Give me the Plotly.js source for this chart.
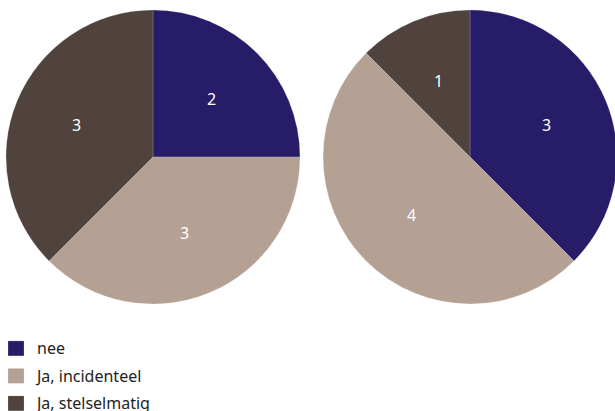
<!DOCTYPE html>
<html><head><meta charset="utf-8">
<script src="https://cdn.plot.ly/plotly-3.0.1.min.js"></script>
<style>body{margin:0;padding:0;overflow:hidden}#c{width:620px;height:411px}</style>
</head><body><div id="c"></div>
<script>
var categories = ["nee", "Ja, incidenteel", "Ja, stelselmatig"];
var valuesLeft = [2, 3, 3];
var valuesRight = [3, 4, 1];
var colors = ["#271c67", "#b5a194", "#50433d"];

var H = 411, W = 620;
var R = 147, CY = 157;
var centersX = [153, 470];
var labelRadius = 0.56;

function pie(vals, cx, show) {
  return {
    type: "pie", values: vals, labels: categories, sort: false, direction: "clockwise", rotation: 0,
    textinfo: "none",
    marker: {colors: colors, line: {color: "rgba(255,255,255,0.35)", width: 0.5}},
    domain: {x: [(cx - R) / W, (cx + R) / W], y: [1 - (CY + R) / H, 1 - (CY - R) / H]},
    showlegend: show, hoverinfo: "label+value"
  };
}
function labels(vals, cx) {
  var tot = vals.reduce(function (a, b) { return a + b; }, 0), cum = 0, out = [];
  vals.forEach(function (v) {
    var mid = (cum + v / 2) / tot * 2 * Math.PI; cum += v;
    var px = cx + labelRadius * R * Math.sin(mid), py = CY - labelRadius * R * Math.cos(mid);
    out.push({xref: "paper", yref: "paper", x: px / W, y: 1 - py / H, xanchor: "center", yanchor: "middle",
      text: String(v), showarrow: false, font: {color: "#ffffff", size: 16, family: "Noto Sans, sans-serif"}});
  });
  return out;
}
var data = [pie(valuesLeft, centersX[0], true), pie(valuesRight, centersX[1], false)];
var layout = {
  width: W, height: H, margin: {l: 0, r: 0, t: 0, b: 0},
  paper_bgcolor: "#ffffff",
  font: {family: "Noto Sans, sans-serif", color: "#222222", size: 16},
  annotations: labels(valuesLeft, centersX[0]).concat(labels(valuesRight, centersX[1])),
  legend: {x: 0, xanchor: "left", y: 0, yanchor: "bottom", traceorder: "normal",
           font: {size: 16, color: "#222222"}, bgcolor: "rgba(0,0,0,0)", tracegroupgap: 0}
};
Plotly.newPlot("c", data, layout, {displayModeBar: false, staticPlot: true}).then(function () {
  document.querySelectorAll(".legend .scrollbox").forEach(function (s) { s.removeAttribute("clip-path"); });
  var items = document.querySelectorAll(".legend .traces");
  var first = null;
  items.forEach(function (g, i) {
    var m = /translate\(([-\d.]+),\s*([-\d.]+)\)/.exec(g.getAttribute("transform") || "");
    var x = m ? parseFloat(m[1]) : 0, y = m ? parseFloat(m[2]) : 0;
    if (first === null) first = y;
    g.setAttribute("transform", "translate(" + (x - 3) + "," + (first + 2 + i * 27.5) + ")");
  });
  document.querySelectorAll(".legendpoints path").forEach(function (p) {
    p.setAttribute("d", "M7,8H-9V-7H7Z");
  });
});
</script></body></html>
